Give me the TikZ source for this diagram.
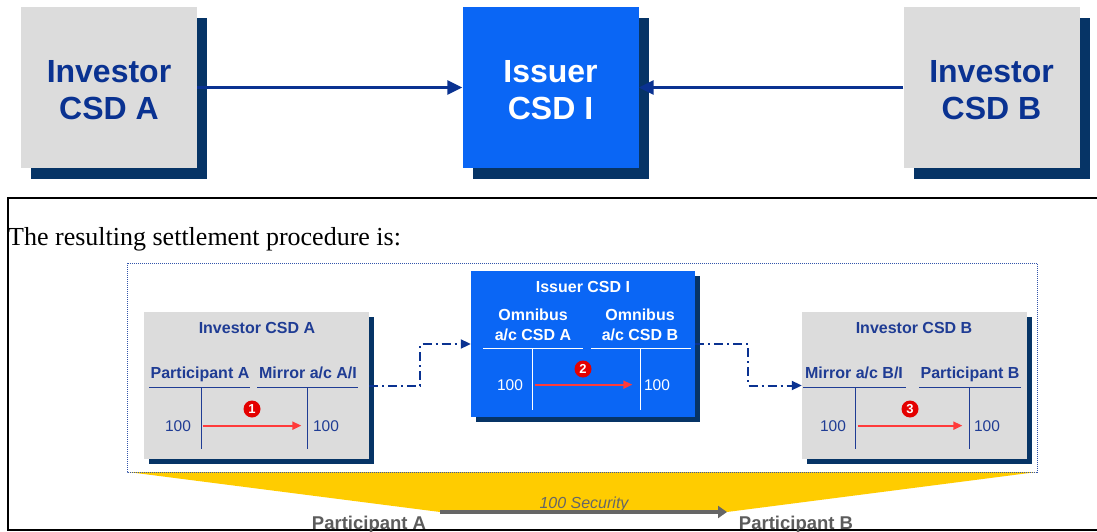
\documentclass[tikz,border=0pt]{standalone}
\usepackage{fontspec}
\setmainfont{Liberation Serif}
\newfontfamily\arialfont{Liberation Sans}
\usetikzlibrary{arrows.meta,shadows}

\definecolor{csdgray}{HTML}{DCDCDC}
\definecolor{csdblue}{HTML}{0A66F5}
\definecolor{csdshadow}{HTML}{063466}
\definecolor{csdnavy}{HTML}{0A3291}
\definecolor{acctnavy}{HTML}{1F3C94}
\definecolor{markred}{HTML}{E40000}
\definecolor{movered}{HTML}{FF3B3B}
\definecolor{secyellow}{HTML}{FFCC00}
\definecolor{secgray}{HTML}{666666}
\definecolor{framedots}{HTML}{3355AA}

\tikzset{
  bigcsd/.style={minimum width=176pt, minimum height=161pt, inner sep=0pt,
    drop shadow={shadow xshift=10pt, shadow yshift=-11pt, fill=csdshadow, opacity=1}},
  bigtext/.style={align=center, inner sep=0pt,
    font=\arialfont\bfseries\fontsize{32}{37}\selectfont},
  smallcsd/.style={minimum width=225pt, minimum height=147pt, inner sep=0pt,
    drop shadow={shadow xshift=5pt, shadow yshift=-5pt, fill=csdshadow, opacity=1}},
  acctlabel/.style={font=\arialfont\bfseries\fontsize{16}{16}\selectfont, anchor=base, inner sep=0pt},
  amount/.style={font=\arialfont\fontsize{15.5}{15.5}\selectfont, anchor=base, inner sep=0pt},
  stepmark/.style={circle, fill=markred, text=white, minimum size=17pt, inner sep=0pt,
    font=\arialfont\bfseries\fontsize{13}{13}\selectfont},
  tline/.style={line width=1pt},
  moveline/.style={movered, line width=2pt, shorten <=11.5pt, shorten >=11.5pt,
    -{Triangle[length=9pt,width=8pt]}},
  linkline/.style={csdnavy, line width=3pt, -{Triangle[length=15pt,width=14pt]}},
  dashlink/.style={csdnavy, line width=2pt, dash pattern=on 9pt off 4pt on 2pt off 4pt,
    -{Triangle[length=10pt,width=9pt]}},
}

\begin{document}
\begin{tikzpicture}[x=1pt, y=-1pt]
  \useasboundingbox (0,0) rectangle (1097,532);

  \node[bigcsd, fill=csdgray] (topA) at (109,87.5) {};
  \node[bigcsd, fill=csdblue] (topI) at (550.5,87.5) {};
  \node[bigcsd, fill=csdgray] (topB) at (991.5,87.5) {};
  \node[bigtext, text=csdnavy] (topAtext) at (109,90) {Investor\\CSD A};
  \node[bigtext, text=white] (topItext) at (550.5,90) {Issuer\\CSD I};
  \node[bigtext, text=csdnavy] (topBtext) at (991.5,90) {Investor\\CSD B};
  \draw[linkline] (topA.east) -- (topI.west);
  \draw[linkline] (topB.west) -- (topI.east);

  \draw[line width=2pt] (8,198) rectangle (1110,530);
  \node[anchor=base west, inner sep=0pt, font=\fontsize{26}{26}\selectfont] (intro) at (8,245)
    {The resulting settlement procedure is:};

  \fill[secyellow] (128,472) -- (1037,472) -- (727,512) -- (440,512) -- cycle;
  \draw[framedots, line width=1pt, densely dotted] (127,263) rectangle (1037,472);

  \coordinate (secfrom) at (440,512);
  \coordinate (secto) at (727,512);
  \draw[secgray, line width=4pt, -{Triangle[length=9pt,width=12pt]}] (secfrom) -- (secto);
  \node[anchor=base, inner sep=0pt, text=secgray, font=\arialfont\itshape\fontsize{16}{16}\selectfont]
    (secnote) at (584,508) {100 Security};
  \node[anchor=base, inner sep=0pt, text=secgray!90!black, font=\arialfont\bfseries\fontsize{18.5}{18.5}\selectfont]
    (botA) at (369,529) {Participant A};
  \node[anchor=base, inner sep=0pt, text=secgray!90!black, font=\arialfont\bfseries\fontsize{18.5}{18.5}\selectfont]
    (botB) at (796,529) {Participant B};

  \node[smallcsd, fill=csdgray] (invA) at (256.5,385.5) {};
  \node[acctlabel, text=acctnavy] (invAtitle) at (257,333) {Investor CSD A};
  \node[acctlabel, text=acctnavy] (partA) at (200,378) {Participant A};
  \node[acctlabel, text=acctnavy] (mirA) at (308,378) {Mirror a/c A/I};
  \draw[tline, acctnavy] (149,387) -- (250,387) (201,387) -- (201,449);
  \draw[tline, acctnavy] (257,387) -- (358,387) (307,387) -- (307,449);
  \node[amount, text=acctnavy] (amtA1) at (178,431) {100};
  \node[amount, text=acctnavy] (amtA2) at (326,431) {100};
  \draw[moveline] (amtA1.east) -- (amtA2.west);
  \node[stepmark] (step1) at (252,409) {1};

  \node[smallcsd, fill=csdblue, minimum width=224pt, minimum height=146pt] (issI) at (583,344) {};
  \node[acctlabel, text=white] (issItitle) at (583,292) {Issuer CSD I};
  \node[acctlabel, text=white] (omnA1) at (533,320) {Omnibus};
  \node[acctlabel, text=white] (omnA2) at (533,340) {a/c CSD A};
  \node[acctlabel, text=white] (omnB1) at (640,320) {Omnibus};
  \node[acctlabel, text=white] (omnB2) at (640,340) {a/c CSD B};
  \draw[tline, white] (483,348) -- (583,348) (532,348) -- (532,410);
  \draw[tline, white] (591,348) -- (691,348) (640,348) -- (640,410);
  \node[amount, text=white] (amtI1) at (510,390) {100};
  \node[amount, text=white] (amtI2) at (657,390) {100};
  \draw[moveline] (amtI1.east) -- (amtI2.west);
  \node[stepmark] (step2) at (583,369) {2};

  \node[smallcsd, fill=csdgray] (invB) at (914.5,385.5) {};
  \node[acctlabel, text=acctnavy] (invBtitle) at (914,333) {Investor CSD B};
  \node[acctlabel, text=acctnavy] (mirB) at (854,378) {Mirror a/c B/I};
  \node[acctlabel, text=acctnavy] (partB) at (970,378) {Participant B};
  \draw[tline, acctnavy] (803,387) -- (906,387) (855,387) -- (855,449);
  \draw[tline, acctnavy] (919,387) -- (1021,387) (969,387) -- (969,449);
  \node[amount, text=acctnavy] (amtB1) at (833,431) {100};
  \node[amount, text=acctnavy] (amtB2) at (987,431) {100};
  \draw[moveline] (amtB1.east) -- (amtB2.west);
  \node[stepmark] (step3) at (910,409) {3};

  \draw[dashlink] (invA.east) -- ++(51,0) |- (issI.west);
  \draw[dashlink] (issI.east) -- ++(53,0) |- (invB.west);
\end{tikzpicture}
\end{document}
